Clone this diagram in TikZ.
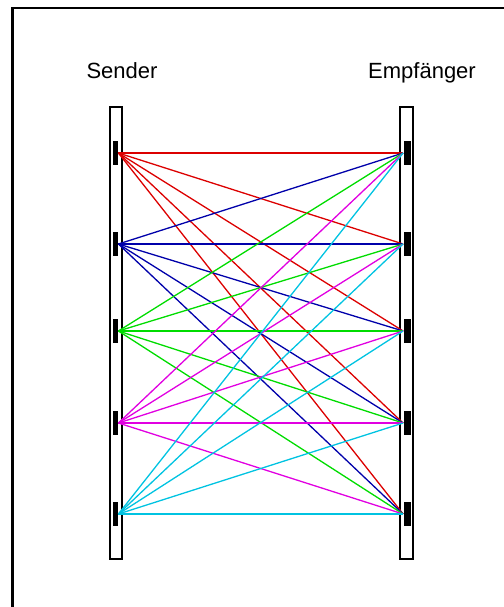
\documentclass[tikz,border=0pt]{standalone}
\usepackage{fontspec}
\setmainfont{Liberation Sans}
\definecolor{rayred}{RGB}{220,0,0}
\definecolor{rayblue}{RGB}{0,0,170}
\definecolor{raygreen}{RGB}{0,220,0}
\definecolor{raymagenta}{RGB}{225,0,225}
\definecolor{raycyan}{RGB}{0,195,225}
\begin{document}
\begin{tikzpicture}[x=0.5pt, y=-0.5pt,
    bar/.style={draw=black, line width=0.6pt, inner sep=0pt, minimum height=226pt},
    diode/.style={fill=black, inner sep=0pt, minimum height=12pt},
    ray/.style={line width=0.65pt}]
    \useasboundingbox (0,0) rectangle (504,607);
    % frame
    \draw[line width=1pt] (12.5,607) -- (12.5,7.5) -- (504,7.5);
    % bars
    \node[bar, minimum width=6pt] (sendbar) at (116,333) {};
    \node[bar, minimum width=6.5pt] (recvbar) at (406.5,333) {};
    \node[anchor=base, font=\fontsize{11}{13}\selectfont] (sendlabel) at (122,78) {Sender};
    \node[anchor=base, font=\fontsize{11}{13}\selectfont] (recvlabel) at (422,78) {Empfänger};
    % diodes
    \foreach \i/\y in {1/153, 2/244, 3/331, 4/423, 5/514} {
        \node[diode, minimum width=2.5pt] (s\i) at (115.5,\y) {};
        \node[diode, minimum width=3.5pt] (r\i) at (407,\y) {};
    }
    % rays
    \foreach \i/\c in {1/rayred, 2/rayblue, 3/raygreen, 4/raymagenta, 5/raycyan}
        \foreach \j in {1,...,5}
            \draw[ray, \c] (s\i.east) -- (r\j.west);
\end{tikzpicture}
\end{document}
